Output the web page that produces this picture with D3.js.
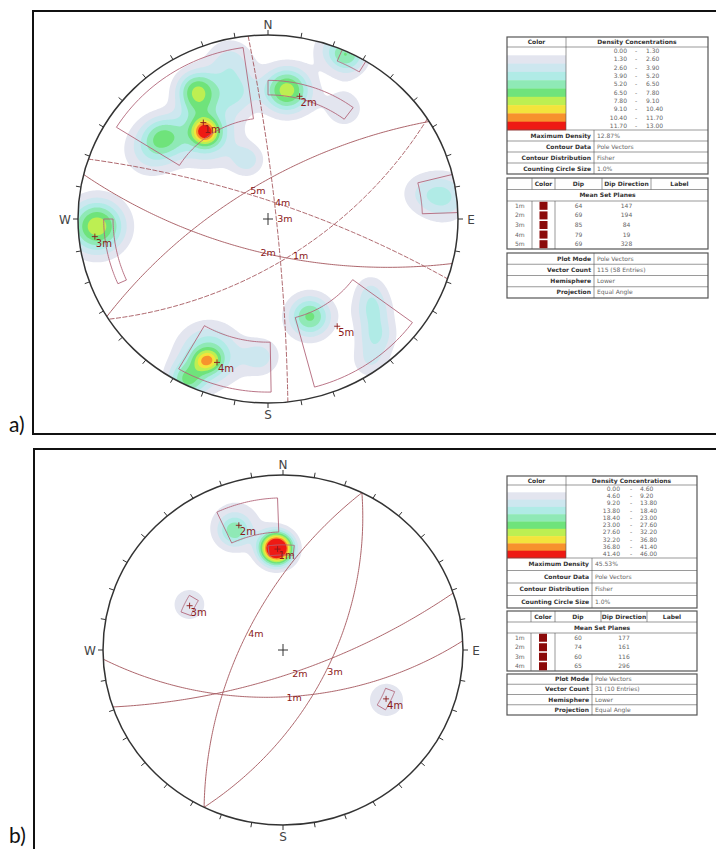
<!DOCTYPE html>
<html><head><meta charset="utf-8">
<script src="https://cdn.jsdelivr.net/npm/d3@7"></script>
<style>body{margin:0;background:#fff}svg{display:block}</style>
</head><body><svg id="c" width="716" height="849"></svg>
<script>
// ---------------- DATA ----------------
const compass = ["N","E","S","W"];
const levelsA = [0,1.3,2.6,3.9,5.2,6.5,7.8,9.1,10.4,11.7,13.0];
const levelsB = [0,4.6,9.2,13.8,18.4,23.0,27.6,32.2,36.8,41.4,46.0];
const bandColors = ["#ffffff","#e3e5ef","#cde7ef","#b0ebe6","#8fe9b6","#6fe37b","#bdef52","#f3e43c","#f7922d","#ee1a14"];

const setLabelsA = ["1m","2m","3m","4m","5m"];
const dipA = [64,69,85,79,69];
const dipDirA = [147,194,84,19,328];
const setLabelsB = ["1m","2m","3m","4m"];
const dipB = [60,74,60,65];
const dipDirB = [177,161,116,296];

// set windows: [trend min, trend max, plunge min, plunge max]
const windowsA = [[302,352,3.5,32.4],[0,36.5,16,22],[23,31,0,4],[246,270,8.3,11.6],[76,88,0,11.8],[179,210,3.5,22.4],[126.5,165,3.2,32]];
const windowsB = [[335,358,8,22],[352,366,28,33],[291,301,27.5,32.5],[111,121,22.8,27.2]];

// pole density clusters (projected unit-circle coords): [x, y, peak, spread]
const clustersA = [
  [-0.332,0.474,8,0.045],[-0.32,0.46,5.5,0.11],
  [-0.375,0.70,7.2,0.075],[-0.36,0.59,1.5,0.07],
  [-0.55,0.45,5.0,0.08],[-0.62,0.37,3,0.1],
  [-0.2,0.85,3.2,0.09],[-0.17,0.68,3.5,0.08],[-0.11,0.32,3.3,0.06],
  [0.1,0.7,8.6,0.085],[0.4,0.6,2.0,0.09],
  [0.42,0.89,5.5,0.07],[0.33,0.93,2,0.08],
  [0.93,0.12,4.0,0.09],[0.8,0.14,1.8,0.08],
  [-0.9,-0.04,8.8,0.1],
  [0.22,-0.53,6.8,0.08],[0.55,-0.49,3.6,0.07],[0.57,-0.63,3.6,0.07],[0.54,-0.77,2.5,0.07],[0.54,-0.38,2,0.06],
  [-0.34,-0.77,3,0.04],[-0.30,-0.77,3,0.04],[-0.31,-0.74,6,0.11],[-0.04,-0.75,3.2,0.07],[-0.43,-0.88,5.5,0.07]
];
const clustersB = [
  [-0.035,0.58,62,0.061],
  [-0.27,0.68,16,0.06],[-0.26,0.72,7,0.12],
  [-0.52,0.26,7,0.09],
  [0.575,-0.285,7,0.1]
];

const infoTopA = [["Maximum Density","12.87%"],["Contour Data","Pole Vectors"],["Contour Distribution","Fisher"],["Counting Circle Size","1.0%"]];
const infoBotA = [["Plot Mode","Pole Vectors"],["Vector Count","115 (58 Entries)"],["Hemisphere","Lower"],["Projection","Equal Angle"]];
const infoTopB = [["Maximum Density","45.53%"],["Contour Data","Pole Vectors"],["Contour Distribution","Fisher"],["Counting Circle Size","1.0%"]];
const infoBotB = [["Plot Mode","Pole Vectors"],["Vector Count","31 (10 Entries)"],["Hemisphere","Lower"],["Projection","Equal Angle"]];
const panelLabels = ["a)","b)"];

// ---------------- HELPERS ----------------
const svg = d3.select("#c");
const rad = Math.PI/180;
const RED = "#8b1a1a", GC = "#a4555b", WIN = "#b2677a";

function projVec(e,n,d){ return [e/(1+d), n/(1+d)]; }
function tp(trend, plunge){
  const t=trend*rad, p=plunge*rad;
  return projVec(Math.cos(p)*Math.sin(t), Math.cos(p)*Math.cos(t), Math.sin(p));
}
function greatCircle(dip, dd){
  const a=dd*rad, b=dip*rad;
  const s=[Math.sin(a-Math.PI/2), Math.cos(a-Math.PI/2), 0];
  const dv=[Math.cos(b)*Math.sin(a), Math.cos(b)*Math.cos(a), Math.sin(b)];
  return d3.range(0,180.5,1).map(k=>{
    const c=Math.cos(k*rad), sn=Math.sin(k*rad);
    return projVec(c*s[0]+sn*dv[0], c*s[1]+sn*dv[1], c*s[2]+sn*dv[2]);
  });
}
function poleOf(dip, dd){ return tp(dd+180, 90-dip); }
function dipVec(dip, dd){ return tp(dd, dip); }
function windowPts(w){
  const [t1,t2,p1,p2]=w, pts=[];
  for(let t=t1;t<=t2+1e-6;t+=(t2-t1)/30) pts.push(tp(t,p1));
  for(let t=t2;t>=t1-1e-6;t-=(t2-t1)/30) pts.push(tp(t,p2));
  return pts;
}

function drawNet(cfg){
  const {cx,cy,rx,ry,id} = cfg;
  const x = d3.scaleLinear().domain([-1,1]).range([cx-rx,cx+rx]);
  const y = d3.scaleLinear().domain([-1,1]).range([cy+ry,cy-ry]);
  const g = svg.append("g");
  const clipId = "clip"+id;
  svg.append("defs").append("clipPath").attr("id",clipId)
    .append("ellipse").attr("cx",cx).attr("cy",cy).attr("rx",rx).attr("ry",ry);
  const inner = g.append("g").attr("clip-path",`url(#${clipId})`);

  // density contours
  const n=260, lo=-1.05, hi=1.05, step=(hi-lo)/(n-1);
  const vals = new Float64Array(n*n);
  for(let j=0;j<n;j++){ const v=hi-j*step;
    for(let i=0;i<n;i++){ const u=lo+i*step; let s=0;
      for(const [cu,cv,A,sg] of cfg.clusters){ const d2=(u-cu)**2+(v-cv)**2; s+=A*Math.exp(-d2/(2*sg*sg)); }
      vals[j*n+i]=s; } }
  const th = cfg.levels.slice(1,10);
  const conts = d3.contours().size([n,n]).thresholds(th)(vals);
  const tr = d3.geoTransform({point(px,py){ this.stream.point(x(lo+(px-0.5)*step), y(hi-(py-0.5)*step)); }});
  const path = d3.geoPath(tr);
  inner.selectAll("path.ct").data(conts).join("path").attr("class","ct")
    .attr("d",path).attr("fill",(d,i)=>bandColors[i+1]).attr("stroke","none");

  const line = d3.line().x(d=>x(d[0])).y(d=>y(d[1]));
  // set windows
  inner.selectAll("path.win").data(cfg.windows).join("path").attr("class","win")
    .attr("d",w=>line(windowPts(w))+"Z").attr("fill","none").attr("stroke",WIN).attr("stroke-width",0.9);
  // great circles
  inner.selectAll("path.gc").data(cfg.dips).join("path").attr("class","gc")
    .attr("d",(d,i)=>line(greatCircle(d,cfg.dds[i]))).attr("fill","none")
    .attr("stroke",GC).attr("stroke-width",0.9)
    .attr("stroke-dasharray",(d,i)=>cfg.dashed[i]?"5,1.5":null);

  // primitive
  g.append("ellipse").attr("cx",cx).attr("cy",cy).attr("rx",rx).attr("ry",ry)
    .attr("fill","none").attr("stroke","#333").attr("stroke-width",1.5);
  // ticks
  g.selectAll("line.tk").data(d3.range(0,360,10)).join("line").attr("class","tk")
    .attr("x1",a=>x(Math.sin(a*rad))).attr("y1",a=>y(Math.cos(a*rad)))
    .attr("x2",a=>x(Math.sin(a*rad))+5*Math.sin(a*rad)).attr("y2",a=>y(Math.cos(a*rad))-5*Math.cos(a*rad))
    .attr("stroke","#333").attr("stroke-width",1);
  g.selectAll("text.cp").data(compass).join("text").attr("class","cp")
    .attr("x",(d,i)=>x(Math.sin(i*90*rad))+13*Math.sin(i*90*rad))
    .attr("y",(d,i)=>y(Math.cos(i*90*rad))-11*Math.cos(i*90*rad)+4.5)
    .attr("text-anchor","middle").attr("font-family","DejaVu Sans").attr("font-size",12)
    .attr("fill","#444").text(d=>d);
  // center cross
  g.append("path").attr("d",`M${cx-5},${cy}H${cx+5}M${cx},${cy-6}V${cy+6}`).attr("stroke","#333").attr("stroke-width",1);

  // poles and plane labels
  cfg.dips.forEach((dp,i)=>{
    const p=poleOf(dp,cfg.dds[i]); const px=x(p[0]), py=y(p[1]);
    g.append("path").attr("d",`M${px-3},${py}H${px+3}M${px},${py-3}V${py+3}`).attr("stroke",RED).attr("stroke-width",0.9);
    g.append("text").attr("x",px+1).attr("y",py+10).attr("font-family","DejaVu Sans").attr("font-size",10)
      .attr("fill",RED).text(cfg.labels[i]);
    const q=dipVec(dp,cfg.dds[i]);
    g.append("text").attr("x",x(q[0])+1).attr("y",y(q[1])+4).attr("text-anchor","start")
      .attr("font-family","DejaVu Sans").attr("font-size",9.5).attr("fill",RED).text(cfg.labels[i]);
  });
}

function drawLegend(L){
  const g=svg.append("g").attr("font-family","DejaVu Sans").attr("font-size",6);
  const bc="#555";
  const rect=(x0,y0,w,h)=>g.append("rect").attr("x",x0).attr("y",y0).attr("width",w).attr("height",h).attr("fill","none").attr("stroke",bc).attr("stroke-width",1.2);
  const hl=(x0,x1,yy,w=0.6)=>g.append("line").attr("x1",x0).attr("x2",x1).attr("y1",yy).attr("y2",yy).attr("stroke",bc).attr("stroke-width",w);
  const vl=(xx,y0,y1,w=0.6)=>g.append("line").attr("x1",xx).attr("x2",xx).attr("y1",y0).attr("y2",y1).attr("stroke",bc).attr("stroke-width",w);
  const tx=(xx,yy,t,anc,bold,col)=>g.append("text").attr("x",xx).attr("y",yy+2).attr("text-anchor",anc)
      .attr("font-weight",bold?"bold":"normal").attr("fill",col||(bold?"#333":"#666")).text(t);
  const {x0,x1,xd,xi,top,hdrH,bandH,infoH} = L;
  // box 1
  const hb=top+hdrH, bb=hb+10*bandH, ib=bb+4*infoH;
  bandColors.forEach((c,i)=>g.append("rect").attr("x",x0).attr("y",hb+i*bandH).attr("width",xd-x0).attr("height",bandH+0.3).attr("fill",c));
  rect(x0,top,x1-x0,ib-top);
  hl(x0,x1,hb); hl(x0,x1,bb); vl(xd,top,bb);
  for(let k=1;k<4;k++) hl(x0,x1,bb+k*infoH);
  vl(xi,bb,ib);
  tx((x0+xd)/2,top+hdrH/2,"Color","middle",true);
  tx((xd+x1)/2,top+hdrH/2,"Density Concentrations","middle",true);
  for(let i=0;i<10;i++){
    const yy=hb+(i+0.5)*bandH;
    tx(L.numL,yy,L.levels[i].toFixed(2),"end",false);
    tx(L.dash,yy,"-","middle",false);
    tx(L.numR,yy,L.levels[i+1].toFixed(2),"start",false);
  }
  L.info1.forEach((r,i)=>{ const yy=bb+(i+0.5)*infoH; tx(xi-3,yy,r[0],"end",true); tx(xi+3,yy,r[1],"start",false); });
  // box 2
  const t2=L.top2, h2=t2+L.h2, m2=h2+L.h2, rb=m2+L.labels.length*L.rowH;
  const [c1,c2,c3,c4]=L.cols;
  rect(x0,t2,x1-x0,rb-t2);
  hl(x0,x1,h2); hl(x0,x1,m2);
  [c1,c2,c3,c4].forEach(c=>vl(c,t2,h2));
  vl(c1,m2,rb); vl(c2,m2,rb);
  tx((c1+c2)/2,t2+L.h2/2,"Color","middle",true);
  tx((c2+c3)/2,t2+L.h2/2,"Dip","middle",true);
  tx((c3+c4)/2,t2+L.h2/2,"Dip Direction","middle",true);
  tx((c4+x1)/2,t2+L.h2/2,"Label","middle",true);
  tx((x0+x1)/2,h2+L.h2/2,"Mean Set Planes","middle",true);
  L.labels.forEach((lb,i)=>{
    const yy=m2+(i+0.5)*L.rowH;
    tx(x0+8,yy,lb,"start",false);
    g.append("rect").attr("x",(c1+c2)/2-4).attr("y",yy-4).attr("width",8).attr("height",8).attr("fill","#8b0a0a");
    tx((c2+c3)/2,yy,String(L.dips[i]),"middle",false);
    tx((c3+c4)/2,yy,String(L.dds[i]),"middle",false);
  });
  // box 3
  const t3=L.top3, b3=t3+4*L.h3;
  rect(x0,t3,x1-x0,b3-t3);
  for(let k=1;k<4;k++) hl(x0,x1,t3+k*L.h3);
  vl(xi,t3,b3);
  L.info2.forEach((r,i)=>{ const yy=t3+(i+0.5)*L.h3; tx(xi-3,yy,r[0],"end",true); tx(xi+3,yy,r[1],"start",false); });
}

// ---------------- FRAMES ----------------
const fr = svg.append("g").attr("fill","none").attr("stroke","#111").attr("stroke-width",2);
fr.append("path").attr("d","M716,11H33V434H716");
fr.append("path").attr("d","M716,449H34V849");
svg.selectAll("text.pl").data(panelLabels).join("text").attr("class","pl")
  .attr("x",9).attr("y",(d,i)=>i?843:432).attr("font-family","Lato").attr("font-size",21).attr("fill","#111").text(d=>d);

// ---------------- NETS ----------------
drawNet({id:"A",cx:268,cy:219,rx:190,ry:184,clusters:clustersA,levels:levelsA,windows:windowsA,
  dips:dipA,dds:dipDirA,labels:setLabelsA,dashed:[true,false,true,true,false]});
drawNet({id:"B",cx:283,cy:650,rx:180,ry:175,clusters:clustersB,levels:levelsB,windows:windowsB,
  dips:dipB,dds:dipDirB,labels:setLabelsB,dashed:[false,false,false,false]});

drawLegend({x0:507,x1:708,xd:566,xi:594,top:37,hdrH:10,bandH:8.3,infoH:11,levels:levelsA,info1:infoTopA,
  top2:178,h2:11.5,rowH:9.6,cols:[532,555,602,651],labels:setLabelsA,dips:dipA,dds:dipDirA,
  top3:253,h3:11.25,info2:infoBotA,numL:627,dash:636,numR:646});
drawLegend({x0:507,x1:697,xd:566,xi:592,top:476,hdrH:9,bandH:7.3,infoH:12.5,levels:levelsB,info1:infoTopB,
  top2:611,h2:11,rowH:9.5,cols:[531,555,601,647],labels:setLabelsB,dips:dipB,dds:dipDirB,
  top3:674,h3:10.25,info2:infoBotB,numL:620,dash:631,numR:640});
</script></body></html>
